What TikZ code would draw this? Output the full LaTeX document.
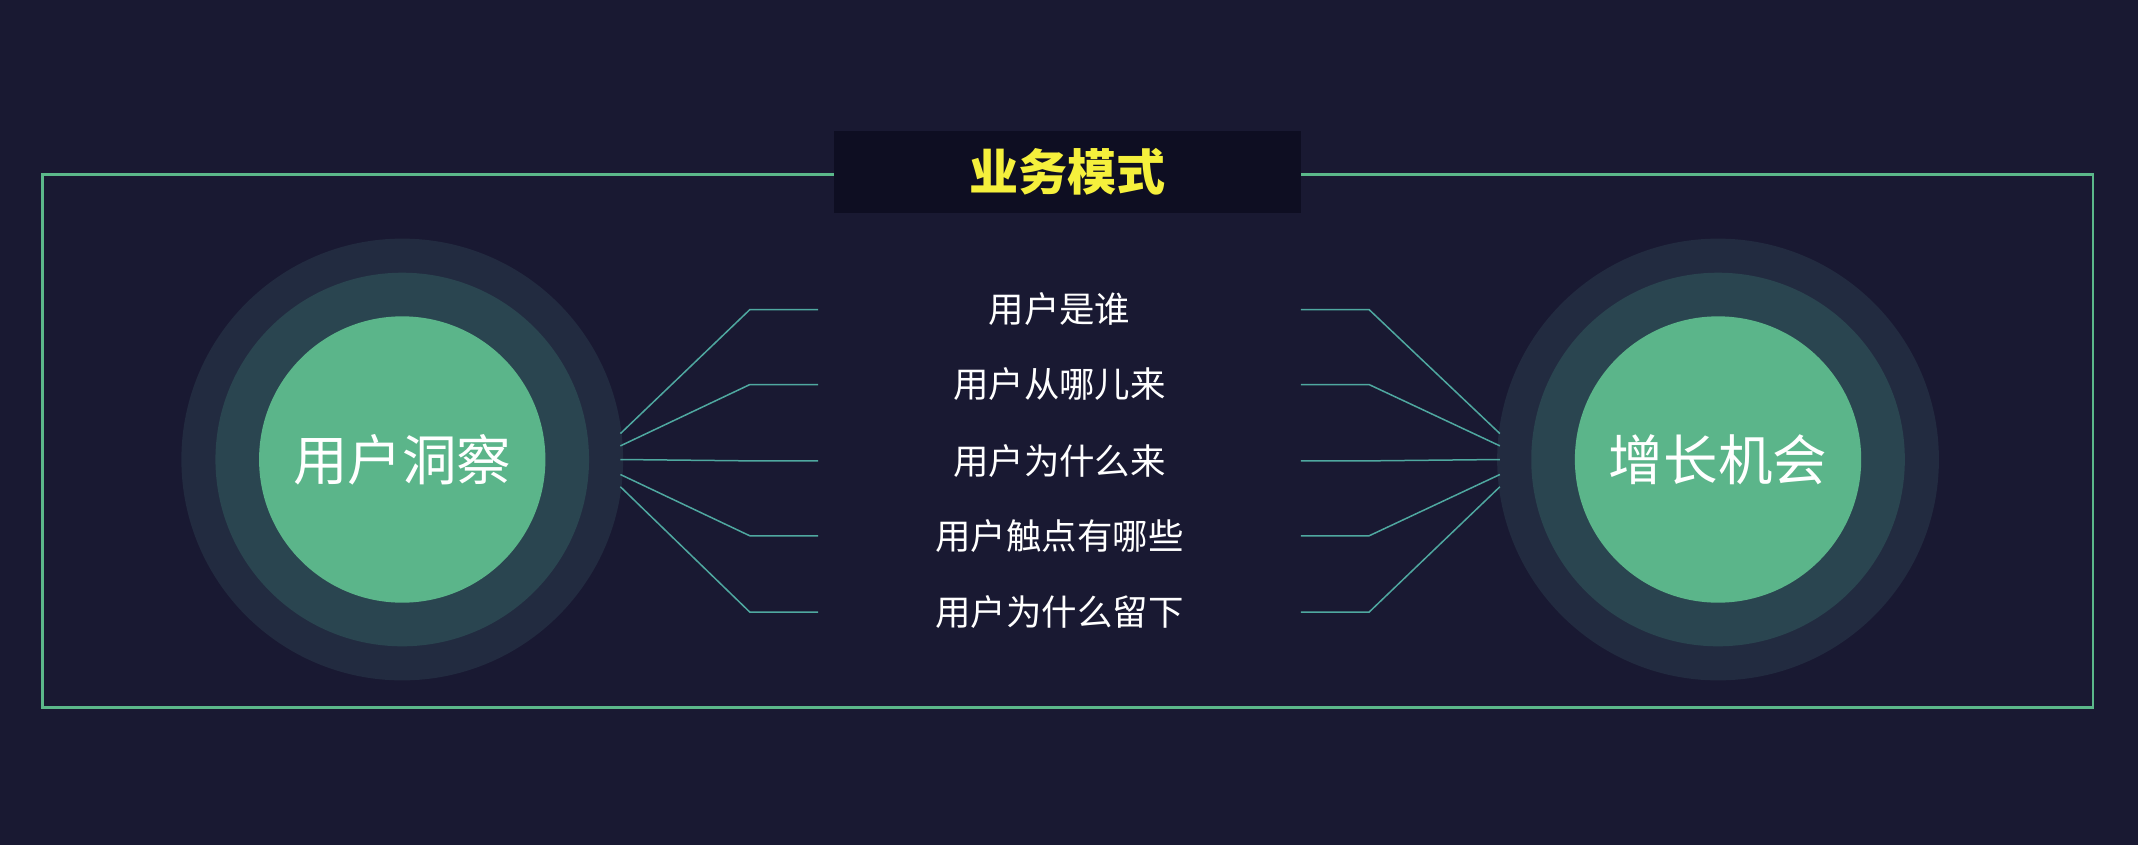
\documentclass[tikz,border=0pt]{standalone}
\usepackage{fontspec}
\setmainfont{Noto Sans CJK SC}
\begin{document}
\begin{tikzpicture}[x=1pt,y=-1pt,
  ln/.style={draw=conn,line width=1.1pt},
  item/.style={text=white,font=\fontsize{26}{30}\selectfont},
  big/.style={text=white,font=\fontsize{40}{46}\selectfont}]
\definecolor{bg}{HTML}{191932}
\definecolor{frame}{HTML}{5BB88A}
\definecolor{ringA}{HTML}{222B40}
\definecolor{ringB}{HTML}{2A4550}
\definecolor{core}{HTML}{5BB58A}
\definecolor{conn}{HTML}{4FA8A0}
\definecolor{tbox}{HTML}{0E0E22}
\definecolor{ttl}{HTML}{F5F03C}
\fill[bg] (0,0) rectangle (1568,620);
\useasboundingbox (0,0) rectangle (1568,620);
\draw[frame,line width=2pt] (31,128) rectangle (1535,519);
\node[fill=tbox,minimum width=342pt,minimum height=60pt,inner sep=0pt,text=ttl,font=\fontsize{36}{40}\selectfont\bfseries] (title) at (783,126) {业务模式};
\foreach \n/\cx in {L/295,R/1260}{
  \fill[ringA] (\cx,337) circle (162);
  \fill[ringB] (\cx,337) circle (137);
  \fill[core] (\cx,337) circle (105);
}
\node[big] (lc) at (295,337) {用户洞察};
\node[big] (rc) at (1260,337) {增长机会};
\node[item] (t1) at (777,227) {用户是谁};
\node[item] (t2) at (777,282) {用户从哪儿来};
\node[item] (t3) at (777,338) {用户为什么来};
\node[item] (t4) at (777,393) {用户触点有哪些};
\node[item] (t5) at (777,449) {用户为什么留下};
\foreach \i/\y/\s in {1/227/318,2/282/327,3/338/337,4/393/348,5/449/357}{
  \coordinate (la\i) at (455,\s);
  \coordinate (lb\i) at (550,\y);
  \coordinate (lc\i) at (600,\y);
  \draw[ln] (la\i) -- (lb\i) -- (lc\i);
  \coordinate (ra\i) at (1100,\s);
  \coordinate (rb\i) at (1004,\y);
  \coordinate (rc\i) at (954,\y);
  \draw[ln] (ra\i) -- (rb\i) -- (rc\i);
}
\end{tikzpicture}
\end{document}
